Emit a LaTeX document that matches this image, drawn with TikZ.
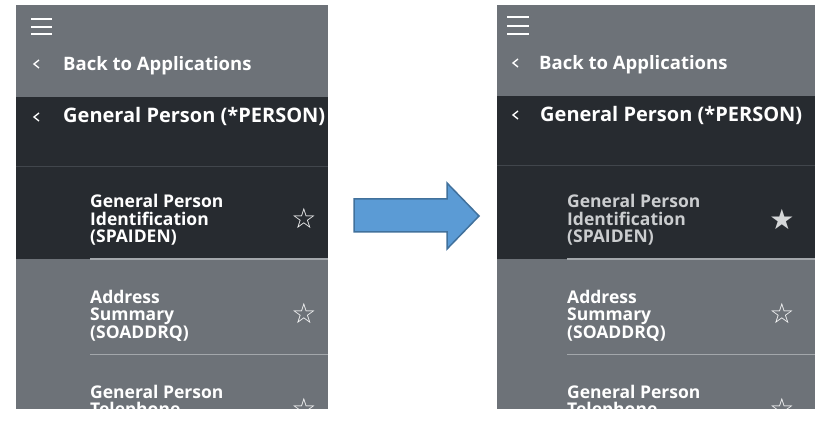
\documentclass[tikz,border=0pt]{standalone}
\usepackage{fontspec}
\setmainfont{Open Sans}
\newfontfamily\symfont{DejaVu Sans}
\usetikzlibrary{positioning}
\definecolor{hdrgray}{HTML}{6D7278}
\definecolor{navdark}{HTML}{272B30}
\definecolor{seplight}{HTML}{A3A7AB}
\definecolor{sepdark}{HTML}{41464C}
\definecolor{dimtext}{HTML}{CBCDCF}
\definecolor{arrowblue}{HTML}{5B9BD5}
\definecolor{arrowedge}{HTML}{41719C}
\begin{document}
\begin{tikzpicture}[x=1pt,y=-1pt,
    menu/.style={text=white,anchor=base west,inner sep=0pt,font=\fontsize{18.5}{18.5}\selectfont\bfseries},
    title/.style={menu,font=\fontsize{20}{20}\selectfont\bfseries},
    item/.style={menu,align=left,font=\fontsize{17.5}{17.5}\selectfont\bfseries},
    fav/.style={text=white,inner sep=0pt,font=\symfont\fontsize{28}{28}\selectfont},
    bars/.style={white,line width=2.5pt},
    chev/.style={white,line width=1.4pt}]
\useasboundingbox (0,0) rectangle (831,433);
\fill[white] (0,0) rectangle (831,433);

\begin{scope}
\clip (16,5) rectangle (328,409);
\fill[hdrgray] (16,5) rectangle (328,409);
\fill[navdark] (16,97) rectangle (328,259);
\draw[sepdark] (16,166) -- (328,166);
\draw[seplight,line width=1.2pt] (90,259) -- (328,259);
\draw[seplight] (90,354) -- (328,354);
\draw[bars] (31,19) -- (52,19) (31,27) -- (52,27) (31,34) -- (52,34);
\draw[chev] (39,60) -- (34,64) -- (39,68);
\draw[chev] (39,113) -- (34,117) -- (39,121);
\node[menu] (lback) at (63,71) {Back to Applications};
\node[title] (lperson) at (63,123) {General Person (*PERSON)};
\node[item] (lspaiden) at (90,243) {General Person\\Identification\\(SPAIDEN)};
\node[item] (laddr) at (90,338) {Address\\Summary\\(SOADDRQ)};
\node[item] (lphone) at (90,415.5) {General Person\\Telephone};
\node[fav] (lstar1) at (304,218) {☆};
\node[fav] (lstar2) at (304,313) {☆};
\node[fav] (lstar3) at (304,408) {☆};
\end{scope}

\filldraw[fill=arrowblue,draw=arrowedge,line width=1.5pt]
  (354,199) -- (447,199) -- (447,183) -- (479,216) -- (447,249) -- (447,232) -- (354,232) -- cycle;

\begin{scope}
\clip (497,5) rectangle (815,409);
\fill[hdrgray] (497,5) rectangle (815,409);
\fill[navdark] (497,96) rectangle (815,259);
\draw[sepdark] (497,165) -- (815,165);
\draw[seplight,line width=1.2pt] (567,259) -- (815,259);
\draw[seplight] (567,354) -- (815,354);
\draw[bars] (507,17) -- (529,17) (507,26) -- (529,26) (507,34) -- (529,34);
\draw[chev] (518,59) -- (513,63) -- (518,67);
\draw[chev] (518,111) -- (513,115) -- (518,119);
\node[menu] (rback) at (539,70) {Back to Applications};
\node[title] (rperson) at (540,122) {General Person (*PERSON)};
\node[item,text=dimtext] (rspaiden) at (567,243) {General Person\\Identification\\(SPAIDEN)};
\node[item] (raddr) at (567,338) {Address\\Summary\\(SOADDRQ)};
\node[item] (rphone) at (567,415.5) {General Person\\Telephone};
\node[fav,text=dimtext!80!white] (rstar1) at (782,219) {★};
\node[fav] (rstar2) at (782,313) {☆};
\node[fav] (rstar3) at (782,408) {☆};
\end{scope}
\end{tikzpicture}
\end{document}
